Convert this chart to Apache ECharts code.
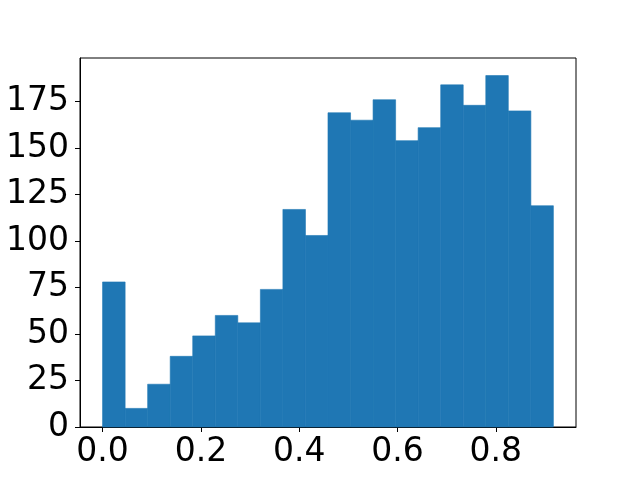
<!DOCTYPE html>
<html>
<head>
<meta charset="utf-8">
<script src="https://cdn.jsdelivr.net/npm/echarts@6/dist/echarts.min.js"></script>
<style>html,body{margin:0;padding:0;background:#fff;}#c{width:640px;height:480px;}</style>
</head>
<body>
<div id="c"></div>
<script>
// Histogram bin edges (21 edges for 20 bins)
var binEdges = [0, 0.0459, 0.0917, 0.1376, 0.1834, 0.2293, 0.2751, 0.3210, 0.3668, 0.4127, 0.4585,
                0.5044, 0.5502, 0.5961, 0.6419, 0.6878, 0.7336, 0.7795, 0.8253, 0.8712, 0.917];
// Counts per bin
var counts = [78, 10, 23, 38, 49, 60, 56, 74, 117, 103, 169, 165, 176, 154, 161, 184, 173, 189, 170, 119];
var xTicks = [0, 0.2, 0.4, 0.6, 0.8];
var yTicks = [0, 25, 50, 75, 100, 125, 150, 175];

var data = [];
for (var i = 0; i < counts.length; i++) {
  data.push([binEdges[i], binEdges[i + 1], counts[i]]);
}

var chart = echarts.init(document.getElementById('c'), null, {renderer: 'canvas'});
var font = 'DejaVu Sans';
chart.setOption({
  animation: false,
  grid: {left: 80, right: 64, top: 58, bottom: 53, show: true, borderColor: '#000', borderWidth: 1, backgroundColor: 'transparent'},
  xAxis: {
    type: 'value', min: -0.0459, max: 0.963,
    splitLine: {show: false},
    axisLine: {show: true, onZero: false, lineStyle: {color: '#000', width: 1}},
    axisTick: {show: true, length: 5, lineStyle: {color: '#000', width: 1}, customValues: xTicks},
    axisLabel: {customValues: xTicks, color: '#000', fontSize: 33, fontFamily: font, margin: 9,
      formatter: function (v) { return v.toFixed(1); }}
  },
  yAxis: {
    type: 'value', min: 0, max: 198.45,
    splitLine: {show: false},
    axisLine: {show: true, onZero: false, lineStyle: {color: '#000', width: 1}},
    axisTick: {show: true, length: 5, lineStyle: {color: '#000', width: 1}, customValues: yTicks},
    axisLabel: {customValues: yTicks, color: '#000', fontSize: 33, fontFamily: font, margin: 11,
      formatter: function (v) { return String(Math.round(v)); }}
  },
  series: [{
    type: 'custom',
    data: data,
    encode: {x: [0, 1], y: 2},
    renderItem: function (params, api) {
      var p0 = api.coord([api.value(0), 0]);
      var p1 = api.coord([api.value(1), api.value(2)]);
      return {
        type: 'rect',
        shape: {x: p0[0], y: p1[1], width: p1[0] - p0[0], height: p0[1] - p1[1]},
        style: {fill: '#1f77b4', stroke: '#1f77b4', lineWidth: 0.6}
      };
    }
  }]
});
</script>
</body>
</html>
